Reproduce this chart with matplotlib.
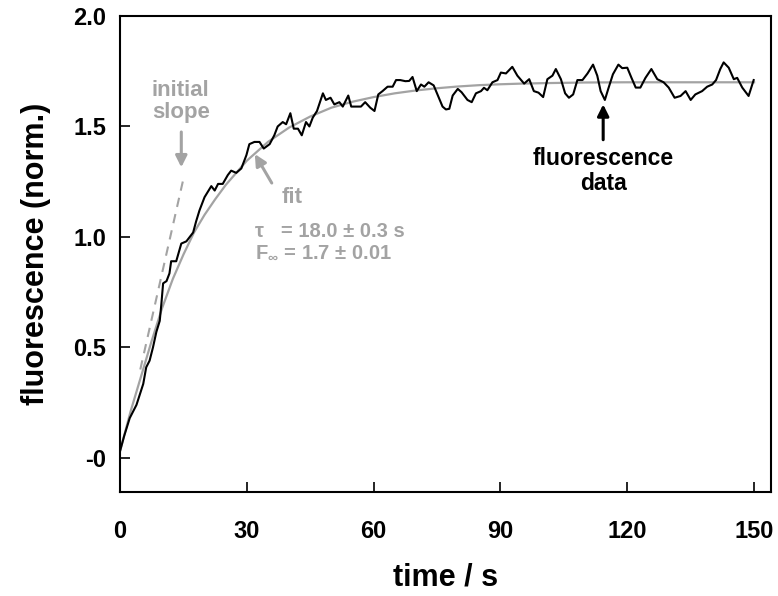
import matplotlib
matplotlib.use("Agg")
import matplotlib.pyplot as plt

plt.rcParams['font.family'] = ['Liberation Sans', 'DejaVu Sans']
plt.rcParams['mathtext.fontset'] = 'custom'
plt.rcParams['mathtext.rm'] = 'Liberation Sans:bold'
plt.rcParams['mathtext.it'] = 'Liberation Sans:bold'
plt.rcParams['mathtext.bf'] = 'Liberation Sans:bold'

# ---- data ----
time_s = [0.0, 1.0, 2.3, 3.9, 5.5, 6.2, 7.0, 7.8, 8.6, 9.4, 9.8, 10.2, 11.0, 11.7, 12.1,
          13.3, 14.5, 15.7, 17.3, 18.0, 18.8, 20.0, 21.6, 22.4, 23.2, 24.3, 25.5, 26.3,
          27.5, 28.7, 29.9, 30.6, 31.8, 33.0, 34.0, 35.4, 36.5, 37.3, 38.5, 39.3, 40.3,
          41.1, 42.1, 43.0, 44.0, 44.8, 45.6, 46.6, 48.0, 48.7, 49.8, 50.7, 51.9, 52.7,
          54.0, 54.7, 55.8, 57.0, 58.0, 59.2, 60.2, 61.1, 62.1, 63.3, 64.5, 65.3, 66.3,
          67.5, 68.4, 69.2, 70.2, 71.2, 72.0, 73.0, 74.2, 75.1, 76.3, 77.1, 77.9, 78.7,
          79.9, 80.8, 82.2, 83.2, 84.2, 85.4, 86.1, 86.9, 88.1, 89.3, 90.1, 91.3, 92.8,
          94.0, 95.6, 96.8, 97.9, 99.0, 100.1, 101.1, 102.3, 103.1, 104.3, 105.3, 106.2,
          107.2, 108.2, 109.4, 110.6, 111.9, 112.9, 113.7, 114.7, 115.5, 116.6, 117.9,
          118.8, 120.0, 121.0, 122.0, 123.1, 124.3, 125.7, 127.1, 128.6, 129.8, 131.2,
          132.6, 133.8, 135.0, 136.1, 137.7, 138.9, 140.1, 141.0, 142.0, 142.8, 144.0,
          145.2, 146.0, 147.2, 148.7, 149.9]
fluor = [0.03, 0.10, 0.18, 0.24, 0.335, 0.41, 0.44, 0.50, 0.57, 0.62, 0.70, 0.79, 0.80,
         0.835, 0.89, 0.89, 0.97, 0.98, 1.02, 1.07, 1.12, 1.18, 1.23, 1.21, 1.24, 1.24,
         1.28, 1.30, 1.29, 1.31, 1.37, 1.42, 1.43, 1.43, 1.40, 1.42, 1.46, 1.50, 1.52,
         1.51, 1.56, 1.49, 1.49, 1.46, 1.52, 1.50, 1.54, 1.57, 1.65, 1.62, 1.63, 1.60,
         1.61, 1.59, 1.64, 1.59, 1.59, 1.59, 1.61, 1.585, 1.57, 1.645, 1.66, 1.68, 1.68,
         1.71, 1.71, 1.705, 1.706, 1.724, 1.66, 1.69, 1.68, 1.70, 1.686, 1.645, 1.59,
         1.577, 1.58, 1.64, 1.67, 1.655, 1.62, 1.61, 1.65, 1.66, 1.675, 1.664, 1.70, 1.71,
         1.744, 1.74, 1.77, 1.73, 1.694, 1.714, 1.66, 1.653, 1.633, 1.714, 1.73, 1.76,
         1.714, 1.65, 1.63, 1.645, 1.71, 1.71, 1.74, 1.78, 1.73, 1.66, 1.62, 1.67, 1.736,
         1.78, 1.764, 1.766, 1.72, 1.676, 1.676, 1.72, 1.76, 1.714, 1.70, 1.676, 1.63,
         1.638, 1.66, 1.62, 1.645, 1.66, 1.68, 1.69, 1.71, 1.76, 1.79, 1.766, 1.714, 1.72,
         1.676, 1.638, 1.71]

fit_time = [0, 2.5, 5, 7.5, 10, 12.5, 15, 17.5, 20, 22.5, 25, 30, 35, 40, 45, 50, 55, 60,
            65, 70, 75, 80, 85, 90, 95, 100, 110, 120, 130, 140, 150]
fit_val = [0.03, 0.21, 0.37, 0.53, 0.68, 0.81, 0.92, 1.02, 1.10, 1.17, 1.235, 1.345, 1.43,
           1.495, 1.545, 1.585, 1.612, 1.633, 1.65, 1.663, 1.673, 1.681, 1.687, 1.691,
           1.694, 1.696, 1.699, 1.70, 1.70, 1.70, 1.70]

slope_time = [4.8, 15.2]
slope_val = [0.40, 1.28]

x_ticks = [0, 30, 60, 90, 120, 150]
y_ticks = [0.0, 0.5, 1.0, 1.5, 2.0]
y_ticklabels = ['-0', '0.5', '1.0', '1.5', '2.0']

GRAY = '#a3a3a3'

fig = plt.figure(figsize=(7.78, 5.96), dpi=100)
ax = fig.add_axes([120 / 778, 1 - 492 / 596, (771 - 120) / 778, (492 - 16) / 596])

ax.plot(fit_time, fit_val, color=GRAY, lw=1.6, zorder=2)
ax.plot(slope_time, slope_val, color=GRAY, lw=1.5, ls=(0, (4.5, 3.5)), zorder=2)
ax.plot(time_s, fluor, color='black', lw=1.5, zorder=3)

ax.set_xlim(0, 154.0)
ax.set_ylim(-0.1545, 2.0)
ax.set_xticks(x_ticks)
ax.set_xticklabels([str(v) for v in x_ticks])
ax.set_yticks(y_ticks)
ax.set_yticklabels(y_ticklabels)

for s in ax.spines.values():
    s.set_linewidth(1.5)
ax.tick_params(direction='in', length=7.5, width=1.2, labelsize=17)
ax.tick_params(axis='x', pad=20)
ax.tick_params(axis='y', pad=10)
for lab in ax.get_xticklabels() + ax.get_yticklabels():
    lab.set_fontweight('bold')

ax.set_xlabel('time / s', fontsize=22, fontweight='bold', labelpad=14)
ax.set_ylabel('fluorescence (norm.)', fontsize=22, fontweight='bold', labelpad=16)

# annotations
ax.text(14.4, 1.614, 'initial\nslope', color=GRAY, fontsize=16, fontweight='bold',
        ha='center', va='center', linespacing=1.05)
ax.annotate('', xy=(14.5, 1.315), xytext=(14.5, 1.475),
            arrowprops=dict(arrowstyle='-|>', color=GRAY, lw=2.2, mutation_scale=17,
                            shrinkA=0, shrinkB=0))

ax.text(40.7, 1.177, 'fit', color=GRAY, fontsize=16, fontweight='bold',
        ha='center', va='center')
ax.annotate('', xy=(31.9, 1.375), xytext=(35.9, 1.244),
            arrowprops=dict(arrowstyle='-|>', color=GRAY, lw=2.2, mutation_scale=17,
                            shrinkA=0, shrinkB=0))

ax.text(31.9, 1.023, 'τ   = 18.0 ± 0.3 s', color=GRAY, fontsize=14.5, fontweight='bold',
        ha='left', va='center')
ax.text(31.9, 0.932, r'F$_{\infty}$ = 1.7 ± 0.01', color=GRAY, fontsize=14.5,
        fontweight='bold', ha='left', va='center')

ax.text(114.3, 1.30, 'fluorescence\ndata', color='black', fontsize=16.5, fontweight='bold',
        ha='center', va='center', linespacing=1.1)
ax.annotate('', xy=(114.3, 1.60), xytext=(114.3, 1.44),
            arrowprops=dict(arrowstyle='-|>', color='black', lw=2.2, mutation_scale=17,
                            shrinkA=0, shrinkB=0))

fig.savefig('out.png', dpi=100)
